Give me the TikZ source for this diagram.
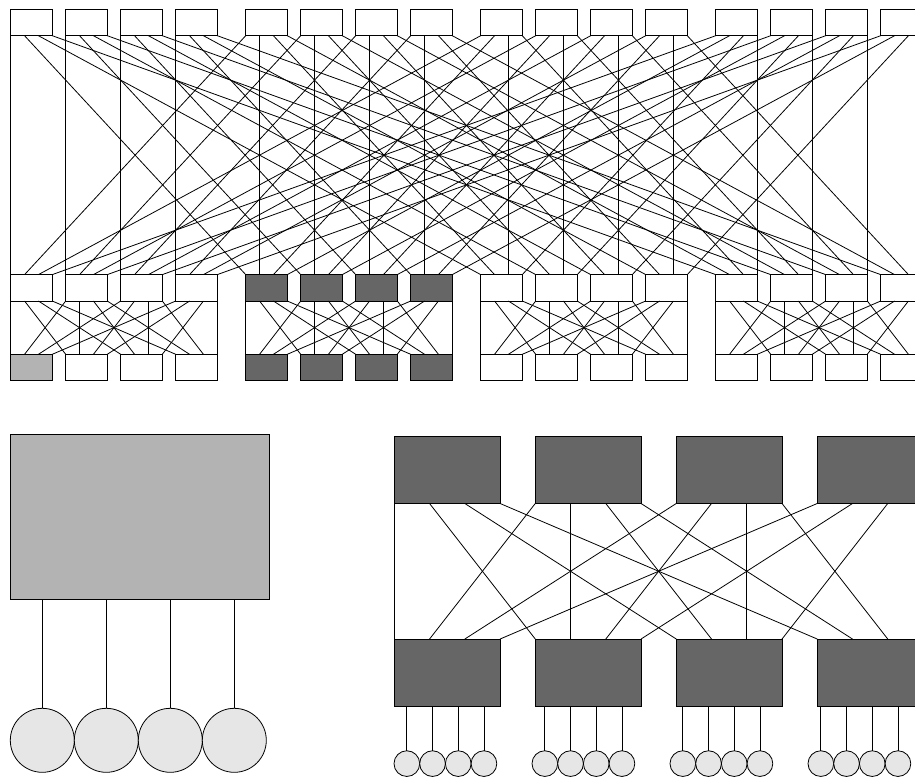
\documentclass[tikz,border=0pt]{standalone}
\usetikzlibrary{calc,math}
\definecolor{darkbox}{RGB}{102,102,102}
\definecolor{lightbox}{RGB}{179,179,179}
\definecolor{hostgray}{RGB}{230,230,230}

\tikzset{
  switch/.style={draw, rectangle, inner sep=0, outer sep=0, minimum width=41.6, minimum height=26.4},
  podswitch/.style={draw, rectangle, inner sep=0, outer sep=0, fill=darkbox, minimum width=105.7, minimum height=67.5},
  host/.style={draw, circle, inner sep=0, outer sep=0, fill=hostgray},
}

\begin{document}
\begin{tikzpicture}[x=1pt,y=-1pt,line width=0.8pt]
\tikzmath{
\xo=10.7;
\bw=41.6;
\pitch=55;
\gpitch=235;
\ytop=22.5;
\ymid=287.8;
\ybot=367.5;
}
\useasboundingbox (0,0) rectangle (915,777);
\clip (0,0) rectangle (915,777);

%switches
\foreach \g/\mc/\fc in {0/white/lightbox, 1/darkbox/darkbox, 2/white/white, 3/white/white}{
  \foreach \j in {0,...,3}{
    \ifnum\j=0 \def\bc{\fc}\else\def\bc{\mc}\fi
    \node[switch, fill=white] (t-\g-\j) at ({\xo+\g*\gpitch+\j*\pitch+\bw/2},\ytop) {};
    \node[switch, fill=\mc] (m-\g-\j) at ({\xo+\g*\gpitch+\j*\pitch+\bw/2},\ymid) {};
    \node[switch, fill=\bc] (b-\g-\j) at ({\xo+\g*\gpitch+\j*\pitch+\bw/2},\ybot) {};
  }
}
%core to aggregation
\foreach \g in {0,...,3}
  \foreach \j in {0,...,3}
    \foreach \p in {0,...,3}
      \draw ($(t-\g-\j.south west)!\p/3!(t-\g-\j.south east)$) -- ($(m-\p-\j.north west)!\g/3!(m-\p-\j.north east)$);
%aggregation to edge
\foreach \g in {0,...,3}
  \foreach \j in {0,...,3}
    \foreach \q in {0,...,3}
      \draw ($(m-\g-\j.south west)!\q/3!(m-\g-\j.south east)$) -- ($(b-\g-\q.north west)!\j/3!(b-\g-\q.north east)$);

%zoomed edge switch
\node[draw, rectangle, inner sep=0, outer sep=0, fill=lightbox, minimum width=258.6, minimum height=165] (zoom) at (140,516.5) {};
\foreach \i in {0,...,3}{
  \node[host, minimum size=64] (h-\i) at ({42.3+64*\i},740.3) {};
  \draw (h-\i.north) -- (h-\i.north |- zoom.south);
}

%zoomed pod
\foreach \k in {0,...,3}{
  \node[podswitch] (pa-\k) at ({394.3+141*\k+52.85},469.7) {};
  \node[podswitch] (pe-\k) at ({394.3+141*\k+52.85},672.8) {};
}
\foreach \j in {0,...,3}
  \foreach \q in {0,...,3}
    \draw ($(pa-\j.south west)!\q/3!(pa-\j.south east)$) -- ($(pe-\q.north west)!\j/3!(pe-\q.north east)$);
\foreach \k in {0,...,3}
  \foreach \i in {0,...,3}{
    \node[host, minimum size=25.7] (s-\k-\i) at ({394+138*\k+12.85+25.7*\i},763.6) {};
    \draw (s-\k-\i.north) -- (s-\k-\i.north |- pe-\k.south);
  }
\end{tikzpicture}
\end{document}
